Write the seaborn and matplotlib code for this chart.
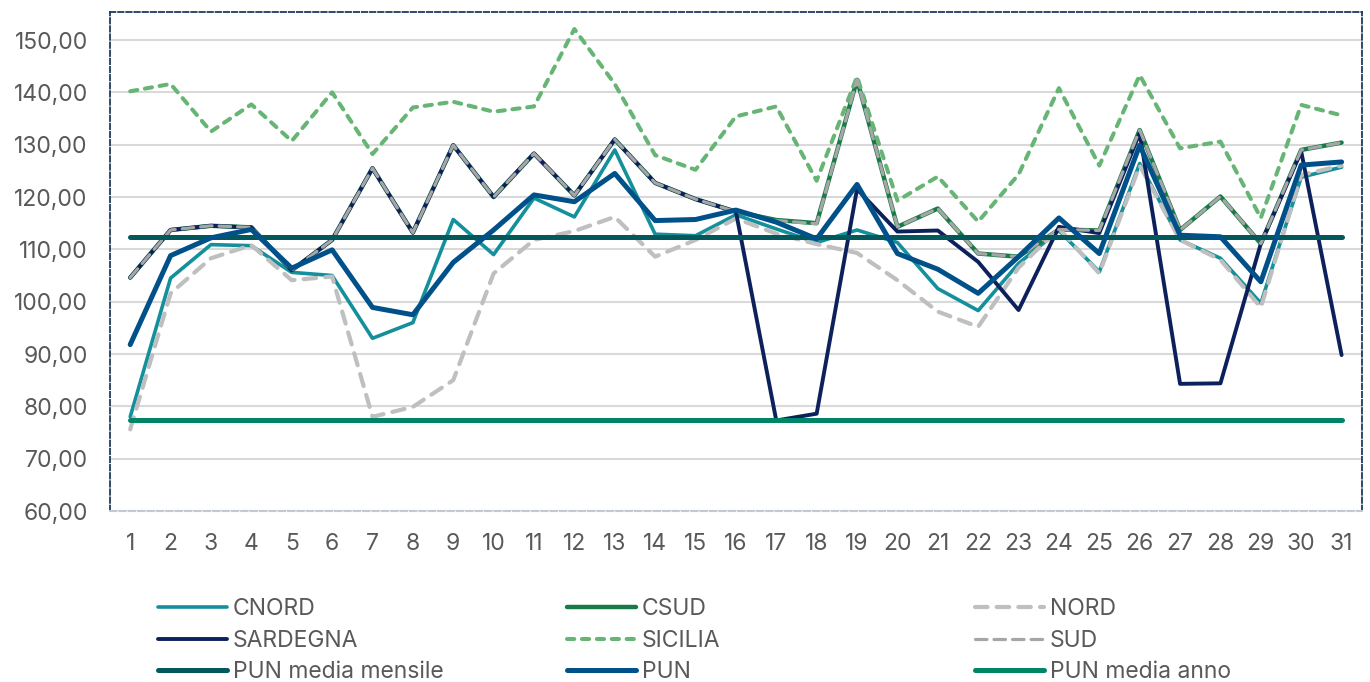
import numpy as np
import pandas as pd
import matplotlib
matplotlib.use("Agg")
import matplotlib.pyplot as plt
import seaborn as sns
from matplotlib.ticker import FuncFormatter

# daily prices, days 1..31
days = list(range(1, 32))

cnord = [78.0, 104.5, 110.9, 110.7, 105.6, 105.0, 93.0, 96.0, 115.7, 109.0,
         119.8, 116.2, 129.0, 112.9, 112.6, 116.6, 113.9, 111.3, 113.7, 111.3,
         102.5, 98.3, 107.3, 113.6, 105.7, 126.4, 111.8, 108.3, 99.7, 123.8, 125.7]
csud = [104.6, 113.7, 114.5, 114.2, 106.0, 111.8, 125.5, 113.2, 129.9, 120.0,
        128.3, 120.3, 131.0, 122.7, 119.6, 117.2, 115.6, 115.0, 142.4, 114.3,
        117.8, 109.2, 108.6, 113.8, 113.6, 132.8, 113.7, 120.1, 111.1, 129.0, 130.4]
nord = [75.6, 101.6, 108.3, 110.8, 104.1, 104.8, 78.0, 79.9, 85.0, 105.4,
        111.8, 113.5, 116.2, 108.6, 111.8, 115.9, 113.0, 111.0, 109.3, 104.1,
        98.1, 95.2, 106.5, 114.0, 105.4, 126.0, 111.8, 108.0, 98.9, 124.2, 126.0]
sardegna = [104.6, 113.7, 114.5, 114.2, 106.0, 111.8, 125.5, 113.2, 129.9, 120.0,
            128.3, 120.3, 131.0, 122.7, 119.6, 117.2, 77.3, 78.6, 121.5, 113.4,
            113.6, 107.6, 98.4, 114.3, 113.1, 132.2, 84.3, 84.4, 111.1, 128.7, 89.8]
sicilia = [140.2, 141.6, 132.5, 137.7, 130.7, 140.0, 128.2, 137.1, 138.2, 136.3,
           137.3, 152.1, 141.6, 128.0, 125.2, 135.4, 137.3, 123.1, 143.0, 119.3,
           123.9, 115.3, 124.3, 140.8, 126.0, 143.3, 129.3, 130.6, 116.0, 137.6, 135.6]
sud = [104.6, 113.7, 114.5, 114.2, 106.0, 111.8, 125.5, 113.2, 129.9, 120.0,
       128.3, 120.3, 131.0, 122.7, 119.6, 117.2, 115.5, 114.9, 142.4, 114.3,
       117.8, 109.2, 108.6, 113.8, 113.6, 132.8, 113.7, 120.1, 111.1, 129.0, 130.4]
pun_media_mensile = [112.4] * 31
pun = [91.8, 108.8, 112.2, 113.8, 106.4, 109.9, 98.9, 97.5, 107.5, 113.7,
       120.4, 119.1, 124.5, 115.5, 115.7, 117.5, 115.2, 112.0, 122.4, 109.2,
       106.2, 101.6, 108.6, 116.0, 109.2, 129.9, 112.7, 112.4, 103.8, 126.1, 126.7]
pun_media_anno = [77.4] * 31

series = [
    ("CNORD", cnord, "#13909C", 2.6, "-"),
    ("CSUD", csud, "#187A46", 3.2, "-"),
    ("NORD", nord, "#BFBFBF", 3.0, (0, (3.0, 2.2))),
    ("SARDEGNA", sardegna, "#0C215C", 2.8, "-"),
    ("SICILIA", sicilia, "#66B574", 2.9, (0, (1.8, 1.9))),
    ("SUD", sud, "#A6A6A6", 2.3, (0, (3.6, 2.2))),
    ("PUN media mensile", pun_media_mensile, "#03585C", 3.6, "-"),
    ("PUN", pun, "#00508A", 3.6, "-"),
    ("PUN media anno", pun_media_anno, "#008567", 3.6, "-"),
]

sns.set_theme(style="white")
plt.rcParams["font.family"] = ["Inter", "DejaVu Sans"]

fig = plt.figure(figsize=(13.7, 6.82), dpi=100)
ax = fig.add_axes([0.0803, 0.2507, 0.9137, 0.7317])

for name, vals, col, lw, ls in series:
    sns.lineplot(x=days, y=vals, ax=ax, color=col, linewidth=lw, linestyle=ls,
                 label=name, solid_capstyle="round", dash_capstyle="round")

ax.set_xlim(0.5, 31.5)
ax.set_ylim(60, 155.35)
ax.set_xticks(days)
ax.set_yticks(range(60, 151, 10))
ax.yaxis.set_major_formatter(FuncFormatter(lambda v, p: f"{v:.2f}".replace(".", ",")))
ax.grid(axis="y", color="#D9D9D9", linewidth=1.5)
ax.set_axisbelow(True)
ax.tick_params(axis="both", length=0, labelsize=16.5, labelcolor="#595959")
ax.tick_params(axis="x", pad=16)
ax.tick_params(axis="y", pad=16)
ax.set_xlabel("")
ax.set_ylabel("")

for side in ["top", "left", "right"]:
    ax.spines[side].set_color("#1F3A5A")
    ax.spines[side].set_linewidth(1.3)
    ax.spines[side].set_linestyle((0, (3, 1.5)))
ax.spines["bottom"].set_color("#C3C9D1")
ax.spines["bottom"].set_linewidth(1.5)
ax.spines["bottom"].set_linestyle((0, (3, 1.5)))

handles, labels = ax.get_legend_handles_labels()
ax.get_legend().remove()

col_x = [0.1153, 0.4139, 0.7117]
for c in range(3):
    idx = [c, c + 3, c + 6]
    fig.legend([handles[i] for i in idx], [labels[i] for i in idx],
               loc="upper left", bbox_to_anchor=(col_x[c], 0.123),
               frameon=False, fontsize=16.5, handlelength=3.0, handletextpad=0.26,
               labelspacing=0.42, borderpad=0, borderaxespad=0,
               labelcolor="#595959")

fig.savefig("out.png", dpi=100)
